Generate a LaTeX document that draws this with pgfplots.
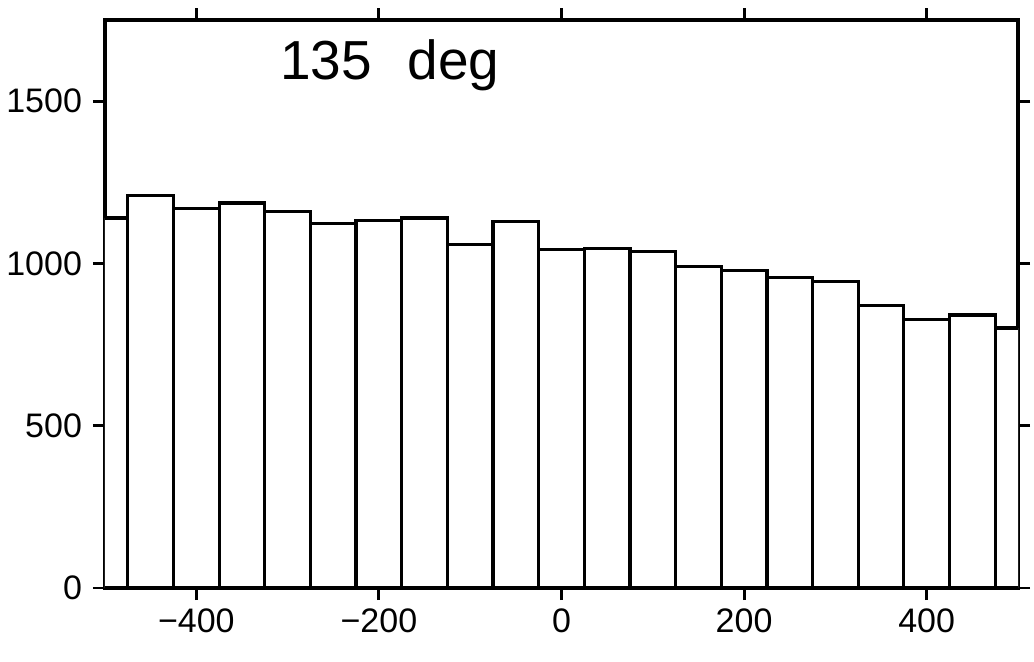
\documentclass[border=0pt]{standalone}
\usepackage{fontspec}
\setmainfont{Liberation Sans}
\usepackage{pgfplots}
\pgfplotsset{compat=1.18}
\begin{document}
\begin{tikzpicture}
\begin{axis}[
  name=ax,
  scale only axis,
  width=456.5pt, height=284pt,
  xmin=-500, xmax=500, ymin=0, ymax=1750,
  axis line style={line width=1.6pt},
  every tick/.style={black, line width=1.4pt},
  tick align=outside,
  major tick length=6pt,
  xtick={-400,-200,0,200,400},
  xticklabels={−400,−200,0,200,400},
  ytick={0,500,1000,1500},
  yticklabels={0,500,1000,1500},
  xtick pos=both, ytick pos=both,
  xticklabel pos=lower, yticklabel pos=left,
  tick label style={font=\fontsize{17}{20}\selectfont},
  xticklabel style={yshift=-1pt},
  yticklabel style={xshift=-2pt},
  clip=true,
]
\addplot[ybar interval, fill=white, draw=black, line width=1.6pt] coordinates {
(-525,1140) (-475,1210) (-425,1170) (-375,1186) (-325,1160) (-275,1122)
(-225,1133) (-175,1140) (-125,1059) (-75,1130) (-25,1043) (25,1047)
(75,1037) (125,991) (175,978) (225,957) (275,944) (325,871)
(375,828) (425,841) (475,801) (525,801)
};
\node[font=\fontsize{27.5}{30}\selectfont] at (rel axis cs:0.312,0.921) {135\hspace{0.65em}deg};
\end{axis}
\pgfresetboundingbox
\path (ax.south west) ++(-52.5pt,-36.5pt) rectangle ++(517pt,330.5pt);
\end{tikzpicture}
\end{document}
